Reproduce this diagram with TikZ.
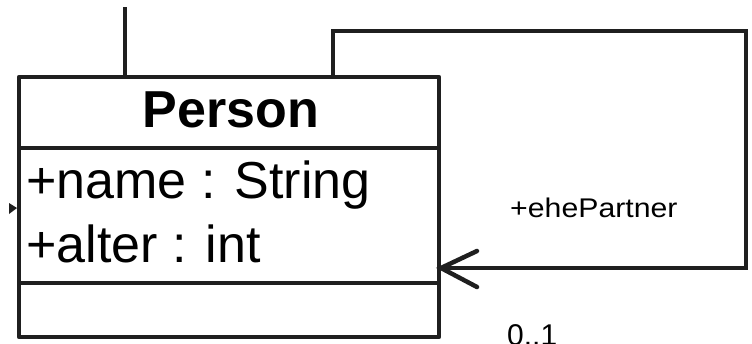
\documentclass[tikz,border=0pt]{standalone}
\usepackage{fontspec}
\setmainfont{Liberation Sans}
\begin{document}
\begin{tikzpicture}[x=1pt,y=-1pt,
  ln/.style={line width=4.5pt,black!88},
  big/.style={font=\fontsize{52}{58}\selectfont,inner sep=0pt,anchor=base west},
  small/.style={font=\fontsize{27}{32}\selectfont,inner sep=0pt,anchor=base west,xscale=1.12}]
\useasboundingbox (0,0) rectangle (752,343);
\clip (0,0) rectangle (752,343);
% class box
\coordinate (tl) at (19,77);
\coordinate (br) at (439,337);
\draw[ln,line join=round] (tl) rectangle (br);
\draw[ln] (19,148) -- (439,148);
\draw[ln] (19,283) -- (439,283);
\node[font=\bfseries\fontsize{52}{58}\selectfont,inner sep=0pt,anchor=base] (title) at (231,127) {Person};
\node[big] (a1) at (26,198) {+name : String};
\node[big] (a2) at (26,262) {+alter : int};
% top connector
\coordinate (top) at (125,7);
\coordinate (topend) at (125,77);
\draw[ln] (top) -- (topend);
% self association
\coordinate (s0) at (333,77);
\coordinate (s1) at (333,31);
\coordinate (s2) at (746,31);
\coordinate (s3) at (746,268);
\coordinate (tip) at (441,268);
\draw[ln,line join=miter] (s0) -- (s1) -- (s2) -- (s3) -- (tip);
\draw[ln,line cap=round,line join=miter] (477,251) -- (tip) -- (477,287);
\node[small] (role) at (510,217) {+ehePartner};
\node[font=\fontsize{30}{34}\selectfont,inner sep=0pt,anchor=base west] (mult) at (507,345) {0..1};
% left mark
\fill[black!88] (9,203) -- (17,208) -- (9,214) -- cycle;
\end{tikzpicture}
\end{document}
